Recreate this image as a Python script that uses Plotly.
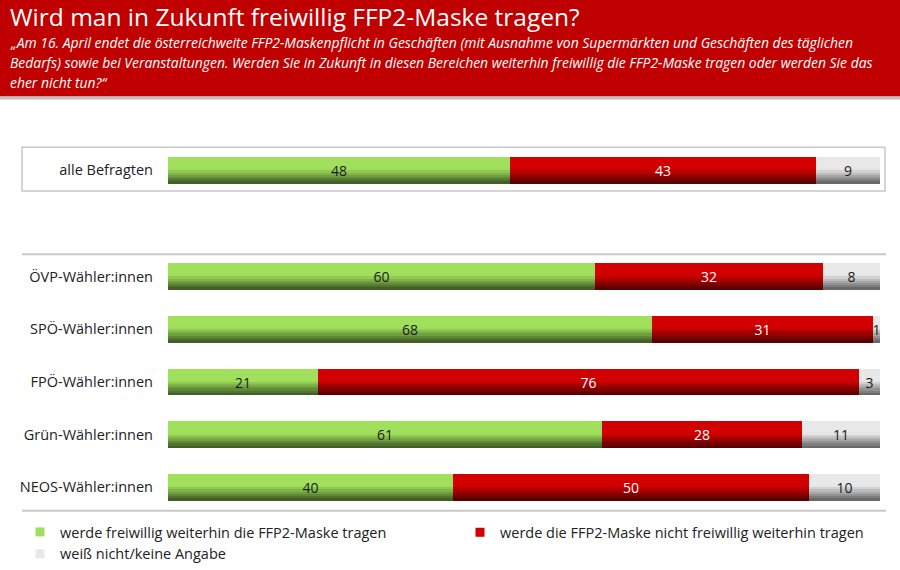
import numpy as np
import plotly.graph_objects as go
from plotly.subplots import make_subplots

TITLE = 'Wird man in Zukunft freiwillig FFP2-Maske tragen?'
SUBTITLE_LINES = [
    '„Am 16. April endet die österreichweite FFP2-Maskenpflicht in Geschäften (mit Ausnahme von Supermärkten und Geschäften des täglichen',
    'Bedarfs) sowie bei Veranstaltungen. Werden Sie in Zukunft in diesen Bereichen weiterhin freiwillig die FFP2-Maske tragen oder werden Sie das',
    'eher nicht tun?“',
]

total_label = ['alle Befragten']
total_ja = [48]
total_nein = [43]
total_wn = [9]

parties = ['ÖVP-Wähler:innen', 'SPÖ-Wähler:innen', 'FPÖ-Wähler:innen',
           'Grün-Wähler:innen', 'NEOS-Wähler:innen']
party_ja = [60, 68, 21, 61, 40]
party_nein = [32, 31, 76, 28, 50]
party_wn = [8, 1, 3, 11, 10]

series_names = ['werde freiwillig weiterhin die FFP2-Maske tragen',
                'werde die FFP2-Maske nicht freiwillig weiterhin tragen',
                'weiß nicht/keine Angabe']

FONT = 'Open Sans'
TOP_COLORS = [(160, 224, 92), (210, 0, 0), (232, 232, 232)]
BOTTOM_COLORS = [(65, 95, 38), (90, 0, 0), (105, 105, 105)]
TEXT_COLORS = ['#1a1a1a', 'white', '#1a1a1a']
BAR_W = 0.5
N_SLICES = 12
W, H = 900, 570


def shade(i, k):
    t = i / (N_SLICES - 1)
    f = 0 if t < 0.45 else (t - 0.45) / 0.55
    c = [int(a + (b - a) * f) for a, b in zip(TOP_COLORS[k], BOTTOM_COLORS[k])]
    return 'rgb(%d,%d,%d)' % tuple(c)


def add_group(fig, row, cats, series):
    vals = np.array(series, dtype=float)
    bases = np.vstack([np.zeros(vals.shape[1]), np.cumsum(vals, axis=0)[:-1]])
    sw = BAR_W / N_SLICES
    for k in range(3):
        # vertical gradient made of thin slices
        for i in range(N_SLICES):
            fig.add_trace(go.Bar(x=vals[k], y=cats, base=bases[k], orientation='h',
                                 width=sw * 1.2, offset=-BAR_W / 2 + i * sw,
                                 marker=dict(color=shade(i, k), line_width=0),
                                 showlegend=False, hoverinfo='skip'),
                          row=row, col=1)
        fig.add_trace(go.Bar(x=vals[k], y=cats, base=bases[k], orientation='h',
                             width=BAR_W, offset=-BAR_W / 2,
                             marker=dict(color='rgba(0,0,0,0)', line_width=0),
                             text=[str(int(v)) for v in vals[k]],
                             textposition='inside', insidetextanchor='middle',
                             constraintext='none', cliponaxis=False,
                             textfont=dict(family=FONT, size=14, color=TEXT_COLORS[k]),
                             showlegend=False, hovertemplate='%{y}: %{x}<extra></extra>'),
                      row=row, col=1)


fig = make_subplots(rows=2, cols=1)
add_group(fig, 1, total_label, [total_ja, total_nein, total_wn])
add_group(fig, 2, parties, [party_ja, party_nein, party_wn])

# legend keys
for k in range(3):
    fig.add_trace(go.Scatter(x=[None], y=[None], mode='markers', name=series_names[k],
                             marker=dict(symbol='square', size=9,
                                         color='rgb(%d,%d,%d)' % TOP_COLORS[k]),
                             legend='legend2' if k == 1 else 'legend'),
                  row=2, col=1)


def py(p):
    return 1 - p / H


x_dom = [168 / W, 880 / W]
fig.update_xaxes(range=[0, 100], domain=x_dom, visible=False, fixedrange=True)
fig.update_yaxes(showgrid=False, zeroline=False, showline=False, ticks='',
                 ticklabelstandoff=14, fixedrange=True,
                 tickfont=dict(family=FONT, size=14.5, color='#222222'))
fig.update_yaxes(domain=[py(197.5), py(144.5)], range=[0.5, -0.5],
                 categoryorder='array', categoryarray=total_label, row=1, col=1)
fig.update_yaxes(domain=[py(516.5), py(251.5)], range=[4.5, -0.5],
                 categoryorder='array', categoryarray=parties, row=2, col=1)

shapes = [
    dict(type='rect', xref='paper', yref='paper', x0=0, x1=1, y0=py(97), y1=1,
         fillcolor='#C00000', line_width=0, layer='below'),
    dict(type='rect', xref='paper', yref='paper', x0=0, x1=1, y0=py(100), y1=py(97),
         fillcolor='#BFBFBF', line_width=0, layer='below'),
    dict(type='rect', xref='paper', yref='paper', x0=22 / W, x1=885 / W,
         y0=py(192), y1=py(148), line=dict(color='#C8C8C8', width=1.5),
         fillcolor='white', layer='below'),
    dict(type='line', xref='paper', yref='paper', x0=22 / W, x1=886 / W,
         y0=py(255.5), y1=py(255.5), line=dict(color='#C8C8C8', width=2)),
    dict(type='line', xref='paper', yref='paper', x0=22 / W, x1=886 / W,
         y0=py(513.5), y1=py(513.5), line=dict(color='#C8C8C8', width=2)),
]

annotations = [
    dict(text=TITLE, xref='paper', yref='paper', x=8 / W, y=py(17), xanchor='left',
         yanchor='middle', showarrow=False,
         font=dict(family=FONT, size=24.5, color='white')),
]
for n, line in enumerate(SUBTITLE_LINES):
    annotations.append(dict(text=line, xref='paper', yref='paper', x=8 / W,
                            y=py(43 + 20 * n), xanchor='left', yanchor='middle',
                            showarrow=False,
                            font=dict(family=FONT, size=13.9, color='white', style='italic')))

legend_common = dict(orientation='v', xanchor='left', yanchor='top',
                     font=dict(family=FONT, size=14.5, color='#222222'),
                     bgcolor='rgba(0,0,0,0)', itemwidth=30, tracegroupgap=0,
                     itemclick=False, itemdoubleclick=False)

fig.update_layout(
    width=W, height=H,
    margin=dict(l=0, r=0, t=0, b=0),
    paper_bgcolor='white', plot_bgcolor='rgba(0,0,0,0)',
    barmode='overlay', bargap=0,
    showlegend=True,
    legend=dict(x=20 / W, y=py(519), **legend_common),
    legend2=dict(x=460 / W, y=py(519), **legend_common),
    shapes=shapes,
    annotations=annotations,
)

fig.write_html('out.html', config={'displayModeBar': False},
               post_script="document.body.style.margin='0';")
